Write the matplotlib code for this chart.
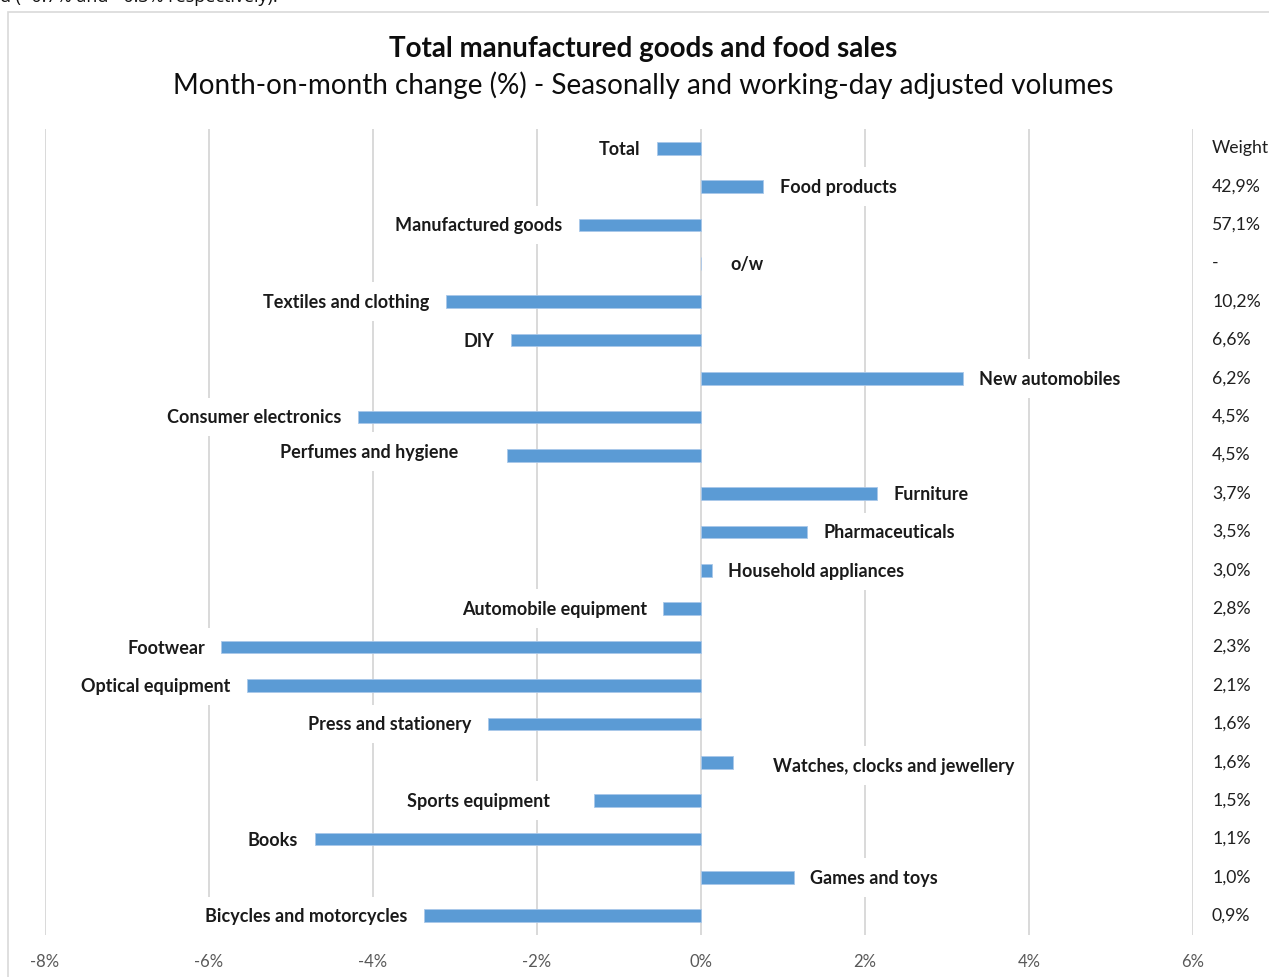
import matplotlib
matplotlib.use("Agg")
import matplotlib.pyplot as plt
import matplotlib.transforms as mtransforms
from matplotlib.patches import Rectangle

# ---------------- data ----------------
categories = ["Total", "Food products", "Manufactured goods", "o/w",
              "Textiles and clothing", "DIY", "New automobiles",
              "Consumer electronics", "Perfumes and hygiene", "Furniture",
              "Pharmaceuticals", "Household appliances", "Automobile equipment",
              "Footwear", "Optical equipment", "Press and stationery",
              "Watches, clocks and jewellery", "Sports equipment", "Books",
              "Games and toys", "Bicycles and motorcycles"]
values = [-0.54, 0.76, -1.49, 0.0, -3.11, -2.32, 3.19, -4.18, -2.36, 2.15,
          1.29, 0.13, -0.46, -5.85, -5.54, -2.60, 0.39, -1.30, -4.71, 1.13, -3.38]
weights = ["Weight", "42,9%", "57,1%", "-", "10,2%", "6,6%", "6,2%", "4,5%",
           "4,5%", "3,7%", "3,5%", "3,0%", "2,8%", "2,3%", "2,1%", "1,6%",
           "1,6%", "1,5%", "1,1%", "1,0%", "0,9%"]
xticks = [-8, -6, -4, -2, 0, 2, 4, 6]
xticklabels = ["-8%", "-6%", "-4%", "-2%", "0%", "2%", "4%", "6%"]
title = "Total manufactured goods and food sales"
subtitle = "Month-on-month change (%) - Seasonally and working-day adjusted volumes"
doc_text = "d (+0.7% and +0.3% respectively)."

# ---------------- layout / style ----------------
W, H = 1269, 978
FONT = "Lato"
BAR_COLOR = "#5b9bd5"
GRID_COLOR = "#d9d9d9"
# label gap from bar end (px) and vertical nudge (px, + = down)
label_gap = {3: 29, 8: 49, 16: 40, 17: 44}
label_dy = {8: -4, 16: 3}
DEFAULT_GAP = 16.5

fig = plt.figure(figsize=(W / 100, H / 100), dpi=100)
fig.patch.set_facecolor("white")
ax = fig.add_axes([45 / W, 42 / H, 1148 / W, 806 / H])

y = list(range(len(categories)))
ax.barh(y, values, height=0.33, color=BAR_COLOR, edgecolor="#a9c8ea",
        linewidth=0.6, zorder=2)
ax.set_ylim(len(categories) - 0.5, -0.5)
ax.set_xlim(-8, 6)
ax.set_xticks(xticks)
ax.set_xticklabels(xticklabels, family=FONT, fontsize=12, color="#595959")
ax.tick_params(axis="x", length=0, pad=13)
ax.set_yticks([])
ax.xaxis.grid(True, color=GRID_COLOR, linewidth=1.4, zorder=0)
ax.set_axisbelow(True)
for s in ax.spines.values():
    s.set_visible(False)

fig.canvas.draw()
renderer = fig.canvas.get_renderer()

# fit label font size to reference width
probe = fig.text(0, 0, "Manufactured goods", family=FONT, fontweight="bold", fontsize=12)
w = probe.get_window_extent(renderer).width
lab_fs = 12 * 166 / w
probe.remove()

px2pt = 72 / 100
for i, (cat, v) in enumerate(zip(categories, values)):
    gap = label_gap.get(i, DEFAULT_GAP)
    dy = label_dy.get(i, 0)
    if v < 0:
        ha, dx = "right", -gap
    else:
        ha, dx = "left", gap
    ax.annotate(cat, xy=(v, i), xytext=(dx * px2pt, -dy * px2pt),
                textcoords="offset points", ha=ha, va="center",
                family=FONT, fontweight="bold", fontsize=lab_fs, color="#1a1a1a",
                bbox=dict(boxstyle="square,pad=0.6", fc="white", ec="none"),
                zorder=4, annotation_clip=False)

# weights column
trans = mtransforms.blended_transform_factory(fig.transFigure, ax.transData)
for i, wt in enumerate(weights):
    ax.text(1212 / W, i - 0.03, wt, transform=trans, ha="left", va="center",
            family=FONT, fontsize=lab_fs * 0.98, color="#1f1f1f", clip_on=False)

# titles fitted to widths
t1 = fig.text(643 / W, 1 - 49 / H, title, family=FONT, fontweight="bold",
              fontsize=18, ha="center", va="center", color="#0d0d0d")
t2 = fig.text(643 / W, 1 - 85 / H, subtitle, family=FONT, fontsize=18,
              ha="center", va="center", color="#0d0d0d")
fig.canvas.draw()
for t, target in ((t1, 510), (t2, 939)):
    tw = t.get_window_extent(renderer).width
    t.set_fontsize(t.get_fontsize() * target / tw)

# clipped document text at very top (cut off in the reference too)
fig.text(0, 1 - 2 / H, doc_text, family="Open Sans", fontsize=13,
         ha="left", va="baseline", color="#111111")

# chart frame
fig.patches.append(Rectangle((8 / W, -0.1), 2, 1.1 - 13 / H, transform=fig.transFigure,
                             fill=False, edgecolor=GRID_COLOR, linewidth=1.2))

fig.savefig("out.png", dpi=100)
